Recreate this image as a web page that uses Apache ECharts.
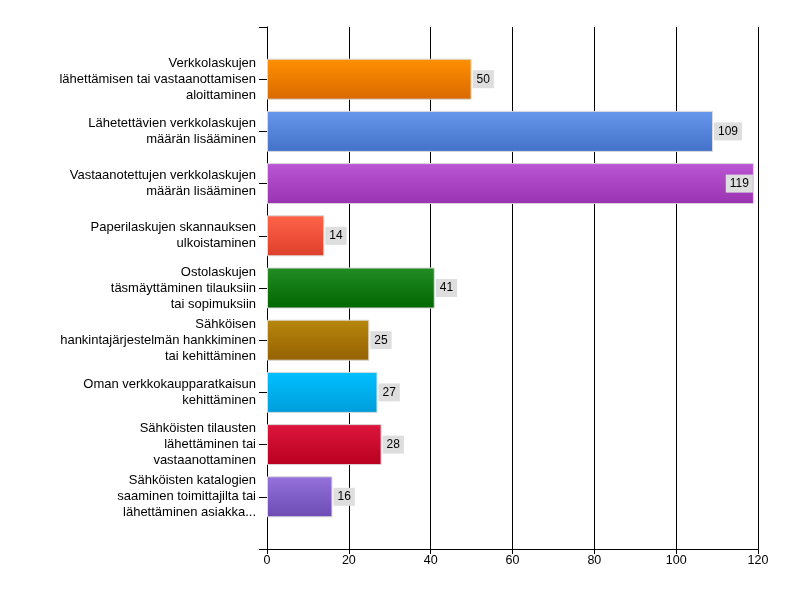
<!DOCTYPE html>
<html><head><meta charset="utf-8">
<script src="https://cdn.jsdelivr.net/npm/echarts@6/dist/echarts.min.js"></script>
<style>html,body{margin:0;padding:0;background:#fff}#c{width:800px;height:600px}</style>
</head><body><div id="c"></div>
<script>
var categories = [
  "Verkkolaskujen\nlähettämisen tai vastaanottamisen\naloittaminen",
  "Lähetettävien verkkolaskujen\nmäärän lisääminen",
  "Vastaanotettujen verkkolaskujen\nmäärän lisääminen",
  "Paperilaskujen skannauksen\nulkoistaminen",
  "Ostolaskujen\ntäsmäyttäminen tilauksiin\ntai sopimuksiin",
  "Sähköisen\nhankintajärjestelmän hankkiminen\ntai kehittäminen",
  "Oman verkkokaupparatkaisun\nkehittäminen",
  "Sähköisten tilausten\nlähettäminen tai\nvastaanottaminen",
  "Sähköisten katalogien\nsaaminen toimittajilta tai\nlähettäminen asiakka..."
];
var values = [50, 109, 119, 14, 41, 25, 27, 28, 16];
var xTicks = [0, 20, 40, 60, 80, 100, 120];
var colorsTop = ["#ff9000", "#6797ec", "#bb56d4", "#ff6449", "#238c23", "#b8870d", "#00c0ff", "#dd163e", "#9572dc"];
var colorsBottom = ["#d96900", "#4371c9", "#9933b0", "#de3e2a", "#006600", "#946200", "#009ddb", "#b8001f", "#6c4bb3"];

var cats = [""].concat(categories).concat([""]);
var data = [null];
values.forEach(function (v, i) {
  data.push({
    value: v,
    itemStyle: {
      color: new echarts.graphic.LinearGradient(0, 0, 0, 1, [
        {offset: 0, color: colorsTop[i]}, {offset: 1, color: colorsBottom[i]}
      ])
    },
    label: v > 115 ? {position: "insideRight", distance: 1} : {}
  });
});
data.push(null);

var chart = echarts.init(document.getElementById("c"), null, {renderer: "canvas"});
chart.setOption({
  animation: false,
  backgroundColor: "#fff",
  grid: {left: 267, right: 42, top: 27, bottom: 51, containLabel: false},
  xAxis: {
    type: "value", min: xTicks[0], max: xTicks[xTicks.length - 1], interval: 20,
    axisLine: {show: true, lineStyle: {color: "#000", width: 1}},
    axisTick: {show: true, length: 5, lineStyle: {color: "#000"}},
    axisLabel: {color: "#000", fontSize: 12.5, fontFamily: "Liberation Sans, Arial, sans-serif", margin: 5},
    splitLine: {show: true, lineStyle: {color: "#000", width: 1}}
  },
  yAxis: {
    type: "category", data: cats, inverse: true, boundaryGap: false,
    axisLine: {show: true, onZero: false, lineStyle: {color: "#000", width: 1}},
    axisTick: {show: true, length: 8, lineStyle: {color: "#000"}},
    axisLabel: {color: "#000", fontSize: 13, fontFamily: "Liberation Sans, Arial, sans-serif", margin: 11, lineHeight: 16, align: "right"},
    splitLine: {show: false}
  },
  series: [{
    type: "bar", data: data, barWidth: 41,
    itemStyle: {borderColor: "#d9d9d9", borderWidth: 1},
    label: {
      show: true, position: "right", distance: 1,
      backgroundColor: "#dedede", color: "#000", padding: [3, 4, 3, 4],
      fontSize: 12, fontFamily: "Liberation Sans, Arial, sans-serif"
    }
  }]
});
</script></body></html>
